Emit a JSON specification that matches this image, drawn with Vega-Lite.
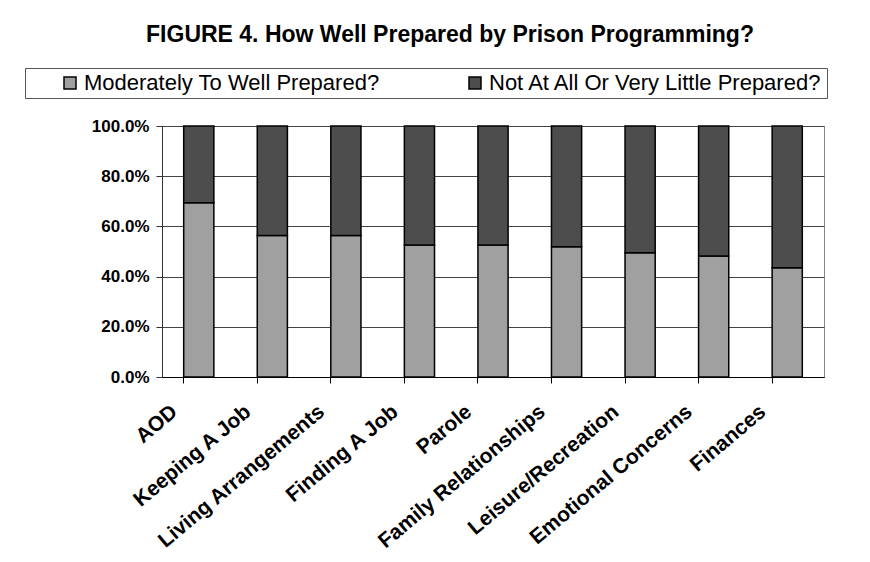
{
  "$schema": "https://vega.github.io/schema/vega-lite/v6.json",
  "width": 662,
  "height": 251,
  "autosize": {"type": "none"},
  "padding": {"left": 162, "top": 126, "right": 46, "bottom": 185},
  "background": "white",
  "title": {
    "text": "FIGURE 4. How Well Prepared by Prison Programming?",
    "font": "Liberation Sans",
    "fontSize": 23,
    "fontWeight": "bold",
    "color": "black",
    "anchor": "middle",
    "dx": -43,
    "offset": 21
  },
  "data": {
    "values": [
      {"area": "AOD", "series": "Moderately To Well Prepared?", "value": 0.694},
      {"area": "AOD", "series": "Not At All Or Very Little Prepared?", "value": 0.306},
      {"area": "Keeping A Job", "series": "Moderately To Well Prepared?", "value": 0.564},
      {"area": "Keeping A Job", "series": "Not At All Or Very Little Prepared?", "value": 0.436},
      {"area": "Living Arrangements", "series": "Moderately To Well Prepared?", "value": 0.564},
      {"area": "Living Arrangements", "series": "Not At All Or Very Little Prepared?", "value": 0.436},
      {"area": "Finding A Job", "series": "Moderately To Well Prepared?", "value": 0.526},
      {"area": "Finding A Job", "series": "Not At All Or Very Little Prepared?", "value": 0.474},
      {"area": "Parole", "series": "Moderately To Well Prepared?", "value": 0.526},
      {"area": "Parole", "series": "Not At All Or Very Little Prepared?", "value": 0.474},
      {"area": "Family Relationships", "series": "Moderately To Well Prepared?", "value": 0.519},
      {"area": "Family Relationships", "series": "Not At All Or Very Little Prepared?", "value": 0.481},
      {"area": "Leisure/Recreation", "series": "Moderately To Well Prepared?", "value": 0.495},
      {"area": "Leisure/Recreation", "series": "Not At All Or Very Little Prepared?", "value": 0.505},
      {"area": "Emotional Concerns", "series": "Moderately To Well Prepared?", "value": 0.482},
      {"area": "Emotional Concerns", "series": "Not At All Or Very Little Prepared?", "value": 0.518},
      {"area": "Finances", "series": "Moderately To Well Prepared?", "value": 0.435},
      {"area": "Finances", "series": "Not At All Or Very Little Prepared?", "value": 0.565}
    ]
  },
  "mark": {"type": "bar", "stroke": "black", "strokeWidth": 1.5},
  "encoding": {
    "x": {
      "field": "area",
      "type": "nominal",
      "sort": null,
      "scale": {"paddingInner": 0.59, "paddingOuter": 0.295},
      "axis": {
        "title": null,
        "bandPosition": 0,
        "labelAngle": -40,
        "labelAlign": "right",
        "labelBaseline": "middle",
        "labelOffset": -24,
        "labelPadding": 26,
        "labelFont": "Liberation Sans",
        "labelFontSize": 21,
        "labelFontWeight": "bold",
        "labelColor": "black",
        "labelLimit": 400,
        "domainColor": "black",
        "tickColor": "black",
        "tickSize": 6,
        "grid": false
      }
    },
    "y": {
      "field": "value",
      "type": "quantitative",
      "stack": "zero",
      "scale": {"domain": [0, 1]},
      "axis": {
        "title": null,
        "format": ".1%",
        "values": [0, 0.2, 0.4, 0.6, 0.8, 1],
        "labelFont": "Liberation Sans",
        "labelFontSize": 17,
        "labelFontWeight": "bold",
        "labelColor": "black",
        "labelPadding": 7,
        "domainColor": "#333333",
        "tickColor": "#333333",
        "tickSize": 6,
        "grid": true,
        "gridColor": "#444444",
        "gridWidth": 1
      }
    },
    "order": {"field": "series", "sort": "ascending"},
    "color": {
      "field": "series",
      "type": "nominal",
      "scale": {
        "domain": ["Moderately To Well Prepared?", "Not At All Or Very Little Prepared?"],
        "range": ["#a0a0a0", "#4d4d4d"]
      },
      "legend": {
        "orient": "none",
        "legendX": -137,
        "legendY": -58,
        "direction": "horizontal",
        "title": null,
        "symbolType": "square",
        "symbolSize": 144,
        "symbolStrokeColor": "black",
        "symbolStrokeWidth": 1.5,
        "symbolOffset": 30,
        "labelFont": "Liberation Sans",
        "labelFontSize": 22,
        "labelColor": "black",
        "labelOffset": 3,
        "labelLimit": 400,
        "columnPadding": 54,
        "padding": 4,
        "strokeColor": "#555555",
        "fillColor": "white"
      }
    }
  },
  "config": {
    "view": {"stroke": "#888888", "strokeWidth": 1},
    "axis": {"domainWidth": 1}
  }
}
